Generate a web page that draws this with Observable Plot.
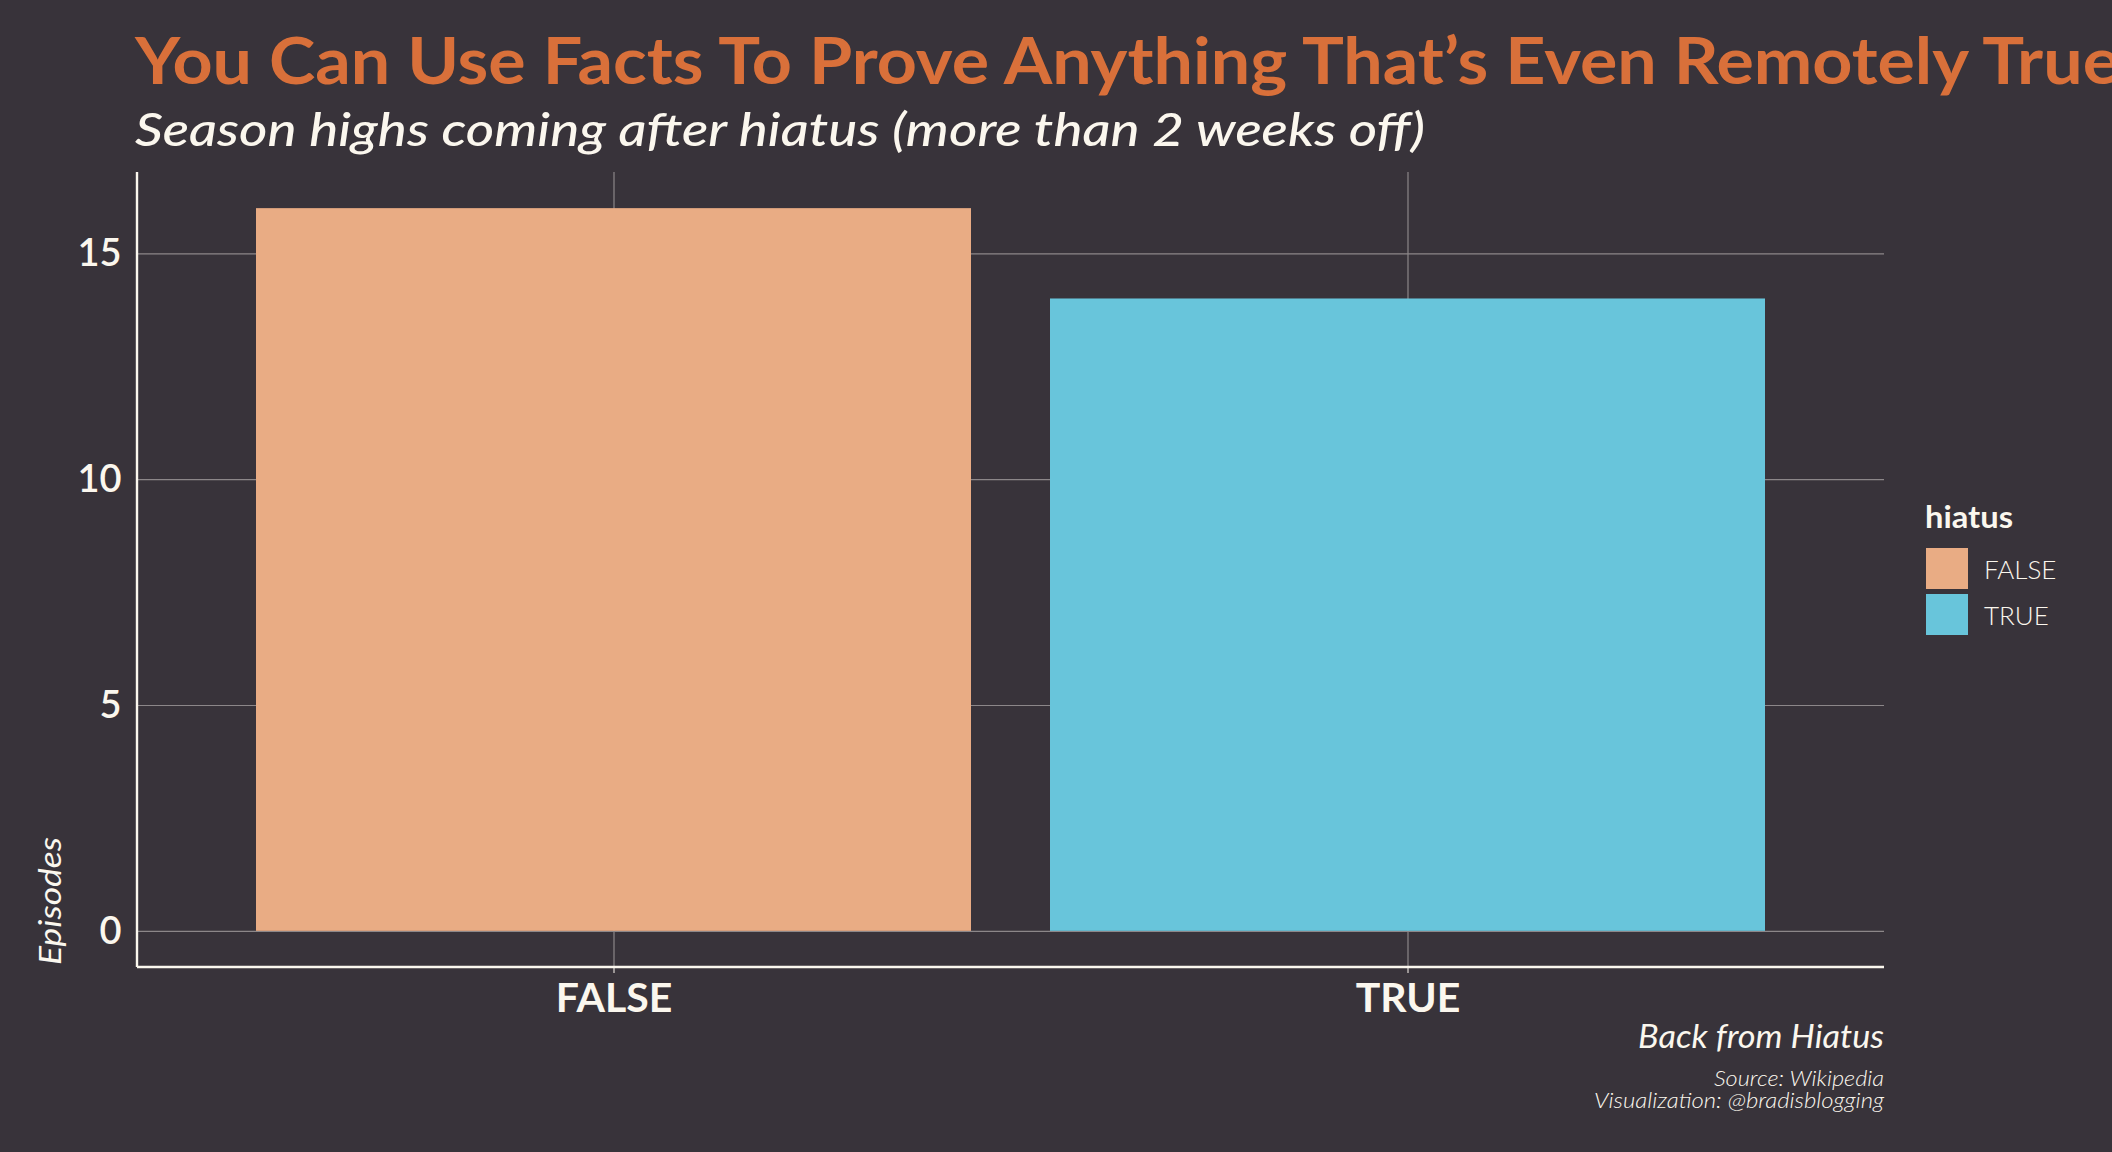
<!DOCTYPE html>
<html><head><meta charset="utf-8">
<script src="https://cdn.jsdelivr.net/npm/d3@7"></script>
<script src="https://cdn.jsdelivr.net/npm/@observablehq/plot@0.6"></script>
<style>
html,body{margin:0;padding:0;background:#38333A;width:2112px;height:1152px;overflow:hidden;}
#wrap{position:relative;width:2112px;height:1152px;font-family:Lato,sans-serif;}
#plot{position:absolute;left:0;top:160px;}
#deco{position:absolute;left:0;top:0;overflow:hidden;}
</style></head>
<body><div id="wrap"><div id="plot"></div><svg id="deco" width="2112" height="1152"></svg></div>
<script>
// ---- data ----
const categories = ["FALSE", "TRUE"];
const episodes = [16, 14];
const yTicks = [0, 5, 10, 15];
const barColors = ["#E9AC84", "#68C5DB"];
const titleText = "You Can Use Facts To Prove Anything That’s Even Remotely True";
const subtitleText = "Season highs coming after hiatus (more than 2 weeks off)";
const yLabel = "Episodes";
const xLabel = "Back from Hiatus";
const legendTitle = "hiatus";
const captionLines = ["Source: Wikipedia", "Visualization: @bradisblogging"];

const cream = "#FBF7EE";
const gridColor = "#8C8789";
const data = categories.map((c, i) => ({hiatus: c, episodes: episodes[i]}));

const chart = Plot.plot({
  width: 2112, height: 870,
  marginLeft: 137, marginRight: 228, marginTop: 12, marginBottom: 63,
  style: {background: "transparent", color: cream, fontFamily: "Lato, sans-serif", overflow: "visible"},
  x: {domain: categories, paddingInner: 0.1, paddingOuter: 0.15, label: null},
  y: {domain: [-0.8, 16.8], label: null},
  color: {domain: categories, range: barColors},
  marks: [
    Plot.gridY(yTicks, {stroke: gridColor, strokeOpacity: 1, strokeWidth: 1.2}),
    Plot.gridX(categories, {stroke: gridColor, strokeOpacity: 1, strokeWidth: 1.2}),
    Plot.barY(data, {x: "hiatus", y: "episodes", fill: "hiatus"}),
    Plot.axisY(yTicks, {tickSize: 0, tickPadding: 16, fontSize: 38, fontWeight: 600, label: null}),
    Plot.axisX({tickSize: 6, tickPadding: 9, fontSize: 41, fontWeight: 700, stroke: cream, label: null})
  ]
});
document.getElementById("plot").appendChild(chart);

// axis lines along panel left and bottom edges, from the scales' ranges
const xr = chart.scale("x").range, yr = chart.scale("y").range;
const sv = d3.select(chart);
sv.append("line").attr("x1", xr[0]).attr("x2", xr[1]).attr("y1", yr[0]).attr("y2", yr[0])
  .attr("stroke", cream).attr("stroke-width", 2.4);
sv.append("line").attr("x1", xr[0]).attr("x2", xr[0]).attr("y1", yr[0]).attr("y2", yr[1])
  .attr("stroke", cream).attr("stroke-width", 2.4);

// ---- titles, legend, captions ----
const deco = d3.select("#deco").style("font-family", "Lato, sans-serif");
function txt(s, x, y, size, weight, style, len, anchor) {
  const t = deco.append("text").attr("x", x).attr("y", y).attr("fill", cream)
    .attr("font-size", size).attr("font-weight", weight).attr("font-style", style)
    .attr("text-anchor", anchor || "start").text(s);
  if (len) t.attr("textLength", len).attr("lengthAdjust", "spacingAndGlyphs");
  return t;
}
txt(titleText, 135, 84, 65, 700, "normal", 1985).attr("fill", "#D9703A");
txt(subtitleText, 135, 146, 47, 500, "italic", 1290);
deco.append("text").attr("transform", "translate(61,965) rotate(-90)").attr("fill", cream)
  .attr("font-size", 31).attr("font-style", "italic").attr("font-weight", 400)
  .attr("textLength", 128).attr("lengthAdjust", "spacingAndGlyphs").text(yLabel);

txt(legendTitle, 1925, 528, 30, 700, "normal", 88);
categories.forEach((c, i) => {
  deco.append("rect").attr("x", 1926).attr("y", 548 + i * 46).attr("width", 42).attr("height", 41)
    .attr("fill", barColors[i]);
  txt(c, 1984, 579 + i * 46, 26, 300, "normal");
});

txt(xLabel, 1884, 1048, 32, 400, "italic", 246, "end");
const capLens = [170, 290];
captionLines.forEach((s, i) => txt(s, 1884, 1086 + i * 22, 21, 300, "italic", capLens[i], "end"));
</script></body></html>
